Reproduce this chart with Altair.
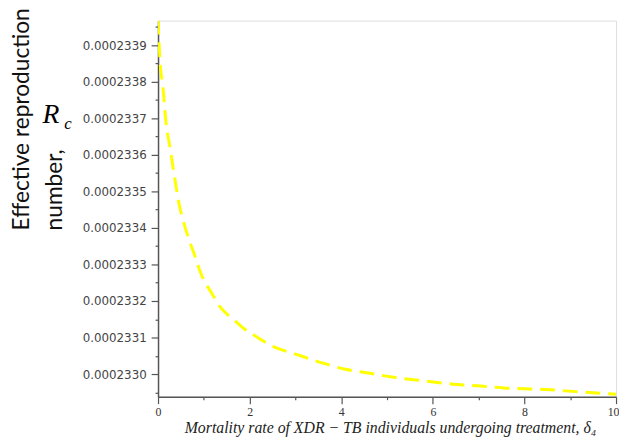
import altair as alt
import pandas as pd

# Mortality rate (x) and effective reproduction number (y)
delta4 = [0.0, 0.04, 0.11, 0.17, 0.26, 0.37, 0.47, 0.54, 0.69, 0.80, 0.95, 1.01,
          1.19, 1.36, 1.66, 1.88, 2.09, 2.52, 3.02, 3.60, 4.09, 4.59, 5.11, 5.82,
          6.40, 6.96, 7.54, 7.97, 8.56, 9.12, 9.85, 10.0]
rc = [0.00023397, 0.000233862, 0.000233782, 0.000233693, 0.000233621, 0.000233532,
      0.000233459, 0.000233424, 0.000233363, 0.000233325, 0.000233271, 0.000233255,
      0.000233218, 0.000233183, 0.000233148, 0.000233124, 0.000233107, 0.000233075,
      0.000233054, 0.000233030, 0.000233013, 0.000233003, 0.000232992, 0.000232981,
      0.000232973, 0.000232968, 0.000232962, 0.000232960, 0.000232957, 0.000232952,
      0.000232946, 0.000232945]

x_ticks = [0, 1, 2, 3, 4, 5, 6, 7, 8, 9, 10]
y_ticks = [0.00023295, 0.0002330, 0.00023305, 0.0002331, 0.00023315, 0.0002332,
           0.00023325, 0.0002333, 0.00023335, 0.0002334, 0.00023345, 0.0002335,
           0.00023355, 0.0002336, 0.00023365, 0.0002337, 0.00023375, 0.0002338,
           0.00023385, 0.0002339, 0.00023395]
y_domain = [0.000232938, 0.000233967]

df = pd.DataFrame({"d": delta4, "r": rc})

x_major = "datum.value % 2 == 0"
y_major = "round(datum.value * 2e7) % 2 == 0"

line = alt.Chart(df).mark_line(
    color="#ffff00", strokeWidth=3, strokeDash=[15, 8], interpolate="monotone", clip=True
).encode(
    x=alt.X("d:Q", scale=alt.Scale(domain=[0, 10], nice=False, zero=False),
            axis=alt.Axis(
                values=x_ticks, grid=False,
                labelExpr="datum.value % 2 == 0 ? datum.label : ''",
                tickSize=alt.condition(x_major, alt.value(7), alt.value(3)),
                labelAlign=alt.condition("datum.value == 10", alt.value("right"), alt.value("center")),
                labelOffset=alt.condition("datum.value == 10", alt.value(3), alt.value(0)),
                tickColor="#555", domainColor="#555", tickWidth=1.2, domainWidth=1.5,
                labelFont="Liberation Serif", labelFontSize=12, labelColor="#333",
                labelFlush=False, labelOverlap=False, labelPadding=3,
                title="Mortality rate of XDR − TB  individuals undergoing treatment, δ₄",
                titleFont="Liberation Serif", titleFontSize=16, titleFontStyle="italic",
                titleFontWeight="normal", titleColor="#222",
                titleBaseline="alphabetic", titleY=36.5,
                titleX=235, titleAlign="center")),
    y=alt.Y("r:Q", scale=alt.Scale(domain=y_domain, nice=False, zero=False),
            axis=alt.Axis(
                values=y_ticks, grid=False,
                labelExpr="round(datum.value * 2e7) % 2 == 0 ? format(datum.value, '.7f') : ''",
                tickSize=alt.condition(y_major, alt.value(7), alt.value(3)),
                tickColor="#555", domainColor="#555", tickWidth=1.2, domainWidth=1.5,
                labelFont="DejaVu Sans", labelFontSize=12, labelColor="#444",
                labelOverlap=False, labelPadding=5,
                title=["Effective reproduction", "number,"],
                titleFont="Lato", titleFontSize=23, titleFontWeight="normal",
                titleColor="#111", titleAngle=270, titleAlign="left",
                titleBaseline="alphabetic", titleLineHeight=33,
                titleX=-131, titleY=212)),
)

anno = pd.DataFrame({"t": ["R"]})
r_text = alt.Chart(anno).mark_text(
    font="Liberation Serif", fontSize=28, fontStyle="italic", align="left",
    baseline="alphabetic", color="#000"
).encode(x=alt.value(-117), y=alt.value(104), text="t:N")
c_text = alt.Chart(pd.DataFrame({"t": ["c"]})).mark_text(
    font="Liberation Serif", fontSize=17, fontStyle="italic", align="left",
    baseline="alphabetic", color="#000"
).encode(x=alt.value(-95), y=alt.value(110), text="t:N")

chart = alt.layer(line, r_text, c_text).properties(
    width=464, height=381,
    padding={"left": 152, "top": 10, "right": 3, "bottom": 40},
    autosize=alt.AutoSizeParams(type="none"),
).configure_view(stroke=None).configure(background="white")

chart.save("out.html", embed_options={"renderer": "svg", "actions": False})
